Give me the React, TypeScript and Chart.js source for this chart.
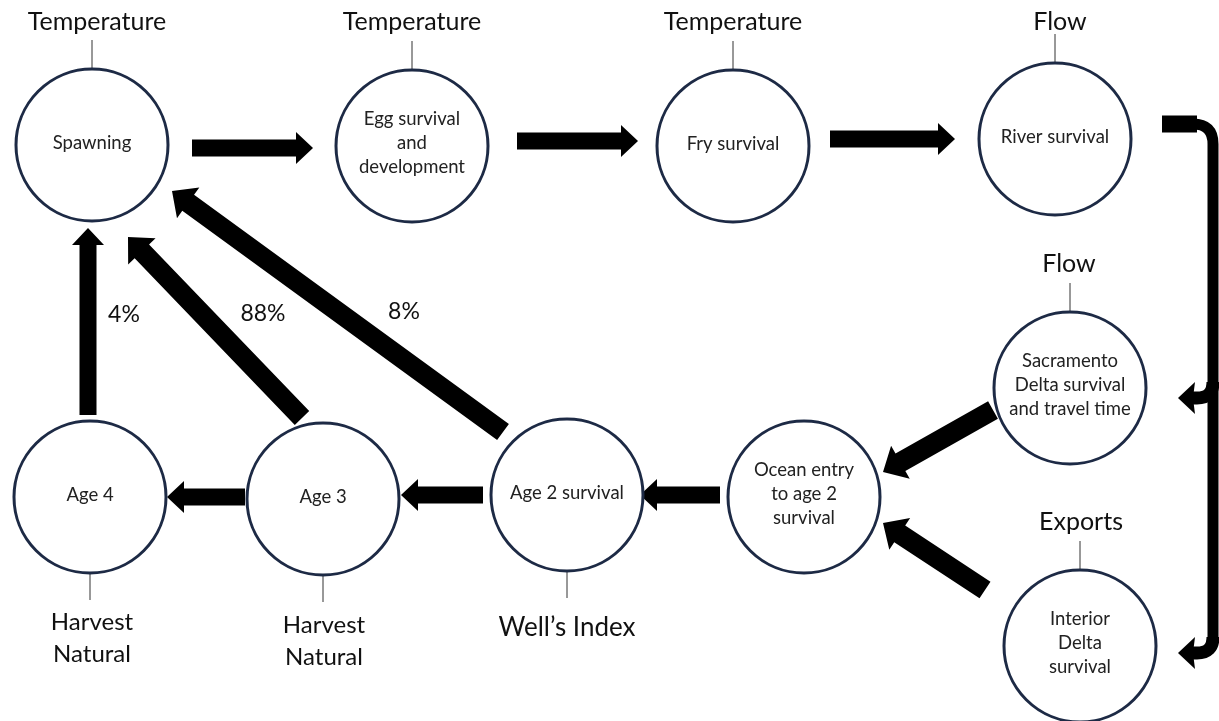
import React, { useEffect, useRef } from "react";
import { Chart, registerables } from "chart.js";

Chart.register(...registerables);

// ---- Nodes (circles) ----
const nodeNames = [
  "Spawning",
  "Egg survival\nand\ndevelopment",
  "Fry survival",
  "River survival",
  "Sacramento\nDelta survival\nand travel time",
  "Ocean entry\nto age 2\nsurvival",
  "Interior\nDelta\nsurvival",
  "Age 2 survival",
  "Age 3",
  "Age 4",
];
const nodeX = [92, 412, 733, 1055, 1070, 804, 1080, 567, 323, 90];
const nodeY = [145, 146, 146, 139, 388, 497, 646, 495, 499, 497];

// ---- Driver labels attached to nodes ----
const driverLabels = [
  "Temperature",
  "Temperature",
  "Temperature",
  "Flow",
  "Flow",
  "Exports",
  "Harvest\nNatural",
  "Harvest\nNatural",
  "Well’s Index",
];
const driverNode = [0, 1, 2, 3, 4, 6, 9, 8, 7];
const driverX = [97, 412, 733, 1060, 1069, 1081, 92, 324, 567];
const driverY = [22, 22, 22, 22, 264, 522, 638, 641, 628];

// ---- Straight arrows (tail -> tip) ----
const arrowX0 = [192, 517, 830, 88, 302, 503, 245, 483, 720, 993, 985];
const arrowY0 = [148, 141, 139, 415, 418, 432, 497, 495, 495, 410, 590];
const arrowX1 = [313, 638, 955, 88, 128, 172, 167, 401, 640, 883, 883];
const arrowY1 = [148, 141, 139, 228, 237, 191, 497, 495, 495, 472, 523];

// ---- Transition percentages ----
const percentLabels = ["4%", "88%", "8%"];
const percentX = [124, 263, 404];
const percentY = [315, 314, 312];

// ---- Bracket (River survival -> Delta branches) ----
const bracketStartX = 1162;
const bracketTopY = 124;
const bracketLineX = 1213;
const branchY = [398, 653];
const branchTipX = 1178;

const NODE_RADIUS = 76;
const NAVY = "#1d2a45";
const FONT = "Lato, 'Open Sans', sans-serif";

function drawArrow(ctx: CanvasRenderingContext2D, x0: number, y0: number, x1: number, y1: number) {
  const dx = x1 - x0;
  const dy = y1 - y0;
  const len = Math.hypot(dx, dy);
  const ux = dx / len;
  const uy = dy / len;
  const nx = -uy;
  const ny = ux;
  const diag = Math.abs(dx) > 5 && Math.abs(dy) > 5;
  const sw = diag ? 10 : 8.5; // half shaft width
  const hw = diag ? 19 : 16; // half head width
  const hl = diag ? 20 : 17; // head length
  const bx = x1 - ux * hl;
  const by = y1 - uy * hl;
  ctx.beginPath();
  ctx.moveTo(x0 + nx * sw, y0 + ny * sw);
  ctx.lineTo(bx + nx * sw, by + ny * sw);
  ctx.lineTo(bx + nx * hw, by + ny * hw);
  ctx.lineTo(x1, y1);
  ctx.lineTo(bx - nx * hw, by - ny * hw);
  ctx.lineTo(bx - nx * sw, by - ny * sw);
  ctx.lineTo(x0 - nx * sw, y0 - ny * sw);
  ctx.closePath();
  ctx.fill();
}

const diagramPlugin = {
  id: "diagram",
  beforeDatasetsDraw(chart: any) {
    const ctx: CanvasRenderingContext2D = chart.ctx;
    const xs = chart.scales.x;
    const ys = chart.scales.y;
    const px = (v: number) => xs.getPixelForValue(v);
    const py = (v: number) => ys.getPixelForValue(v);
    ctx.save();
    ctx.fillStyle = "#000";
    // straight arrows
    for (let i = 0; i < arrowX0.length; i++) {
      drawArrow(ctx, px(arrowX0[i]), py(arrowY0[i]), px(arrowX1[i]), py(arrowY1[i]));
    }
    // bracket
    const sx = px(bracketStartX);
    const ty = py(bracketTopY);
    const lx = px(bracketLineX);
    const lastY = py(branchY[branchY.length - 1]);
    ctx.strokeStyle = "#000";
    ctx.lineCap = "butt";
    ctx.lineJoin = "round";
    ctx.fillRect(sx, ty - 8.5, lx - 16 - sx, 17);
    ctx.lineWidth = 11;
    ctx.beginPath();
    ctx.moveTo(lx - 20, ty);
    ctx.quadraticCurveTo(lx, ty, lx, ty + 20);
    ctx.lineTo(lx, lastY - 14);
    ctx.stroke();
    // branches
    const tip = px(branchTipX);
    for (let i = 0; i < branchY.length; i++) {
      const by = py(branchY[i]);
      ctx.lineWidth = 13;
      ctx.beginPath();
      ctx.moveTo(lx, by - 16);
      ctx.quadraticCurveTo(lx, by, lx - 16, by);
      ctx.lineTo(tip + 14, by);
      ctx.stroke();
      ctx.beginPath();
      ctx.moveTo(tip, by);
      ctx.lineTo(tip + 17, by - 16);
      ctx.lineTo(tip + 15, by);
      ctx.lineTo(tip + 17, by + 16);
      ctx.closePath();
      ctx.fill();
    }
    // connector lines from driver labels to nodes
    ctx.strokeStyle = "#333";
    ctx.lineWidth = 1;
    for (let i = 0; i < driverLabels.length; i++) {
      const n = driverNode[i];
      const cx = px(nodeX[n]);
      const cy = py(nodeY[n]);
      const above = driverY[i] < nodeY[n];
      ctx.beginPath();
      if (above) {
        ctx.moveTo(cx, cy - NODE_RADIUS - 29);
        ctx.lineTo(cx, cy - NODE_RADIUS);
      } else {
        ctx.moveTo(cx, cy + NODE_RADIUS);
        ctx.lineTo(cx, cy + NODE_RADIUS + 27);
      }
      ctx.stroke();
    }
    ctx.restore();
  },
  afterDatasetsDraw(chart: any) {
    const ctx: CanvasRenderingContext2D = chart.ctx;
    const xs = chart.scales.x;
    const ys = chart.scales.y;
    const px = (v: number) => xs.getPixelForValue(v);
    const py = (v: number) => ys.getPixelForValue(v);
    ctx.save();
    ctx.textAlign = "center";
    ctx.textBaseline = "middle";
    // node text
    ctx.fillStyle = "#222";
    ctx.font = `18.5px ${FONT}`;
    for (let i = 0; i < nodeNames.length; i++) {
      const lines = nodeNames[i].split("\n");
      const lh = 24;
      const y0 = py(nodeY[i]) - ((lines.length - 1) * lh) / 2 - (lines.length > 1 ? 3 : 2);
      lines.forEach((l, k) => ctx.fillText(l, px(nodeX[i]), y0 + k * lh));
    }
    // driver labels
    ctx.fillStyle = "#111";
    for (let i = 0; i < driverLabels.length; i++) {
      const lines = driverLabels[i].split("\n");
      const below = driverY[i] > nodeY[driverNode[i]];
      ctx.font = below ? (lines.length > 1 ? `24px ${FONT}` : `26px ${FONT}`) : `25px ${FONT}`;
      const lh = 32;
      lines.forEach((l, k) => ctx.fillText(l, px(driverX[i]), py(driverY[i]) + k * lh - (lines.length - 1) * lh / 2));
    }
    // percentages
    ctx.font = `23px ${FONT}`;
    for (let i = 0; i < percentLabels.length; i++) {
      ctx.fillText(percentLabels[i], px(percentX[i]), py(percentY[i]));
    }
    ctx.restore();
  },
};

export default function App() {
  const canvasRef = useRef<HTMLCanvasElement | null>(null);

  useEffect(() => {
    if (!canvasRef.current) return;
    const chart = new Chart(canvasRef.current, {
      type: "scatter",
      data: {
        datasets: [
          {
            label: "Life stages",
            data: nodeX.map((x, i) => ({ x, y: nodeY[i] })),
            pointRadius: NODE_RADIUS,
            pointHoverRadius: NODE_RADIUS,
            pointStyle: "circle",
            pointBorderWidth: 3,
            pointHoverBorderWidth: 3,
            borderColor: NAVY,
            backgroundColor: "#ffffff",
            clip: false,
          } as any,
        ],
      },
      options: {
        animation: false,
        responsive: true,
        maintainAspectRatio: false,
        events: [],
        layout: { padding: 0, autoPadding: false } as any,
        plugins: {
          legend: { display: false },
          tooltip: { enabled: false },
          title: { display: false },
        },
        scales: {
          x: { type: "linear", min: 0, max: 1219, display: false },
          y: { type: "linear", min: 0, max: 721, reverse: true, display: false },
        },
      },
      plugins: [diagramPlugin],
    });
    if ((document as any).fonts && (document as any).fonts.load) {
      Promise.all([
        (document as any).fonts.load(`22px Lato`),
        (document as any).fonts.load(`17px Lato`),
      ]).then(() => chart.update()).catch(() => {});
    }
    return () => chart.destroy();
  }, []);

  return (
    <div style={{ position: "absolute", left: 0, top: 0, width: 1219, height: 721, background: "#fff" }}>
      <canvas ref={canvasRef} />
    </div>
  );
}
